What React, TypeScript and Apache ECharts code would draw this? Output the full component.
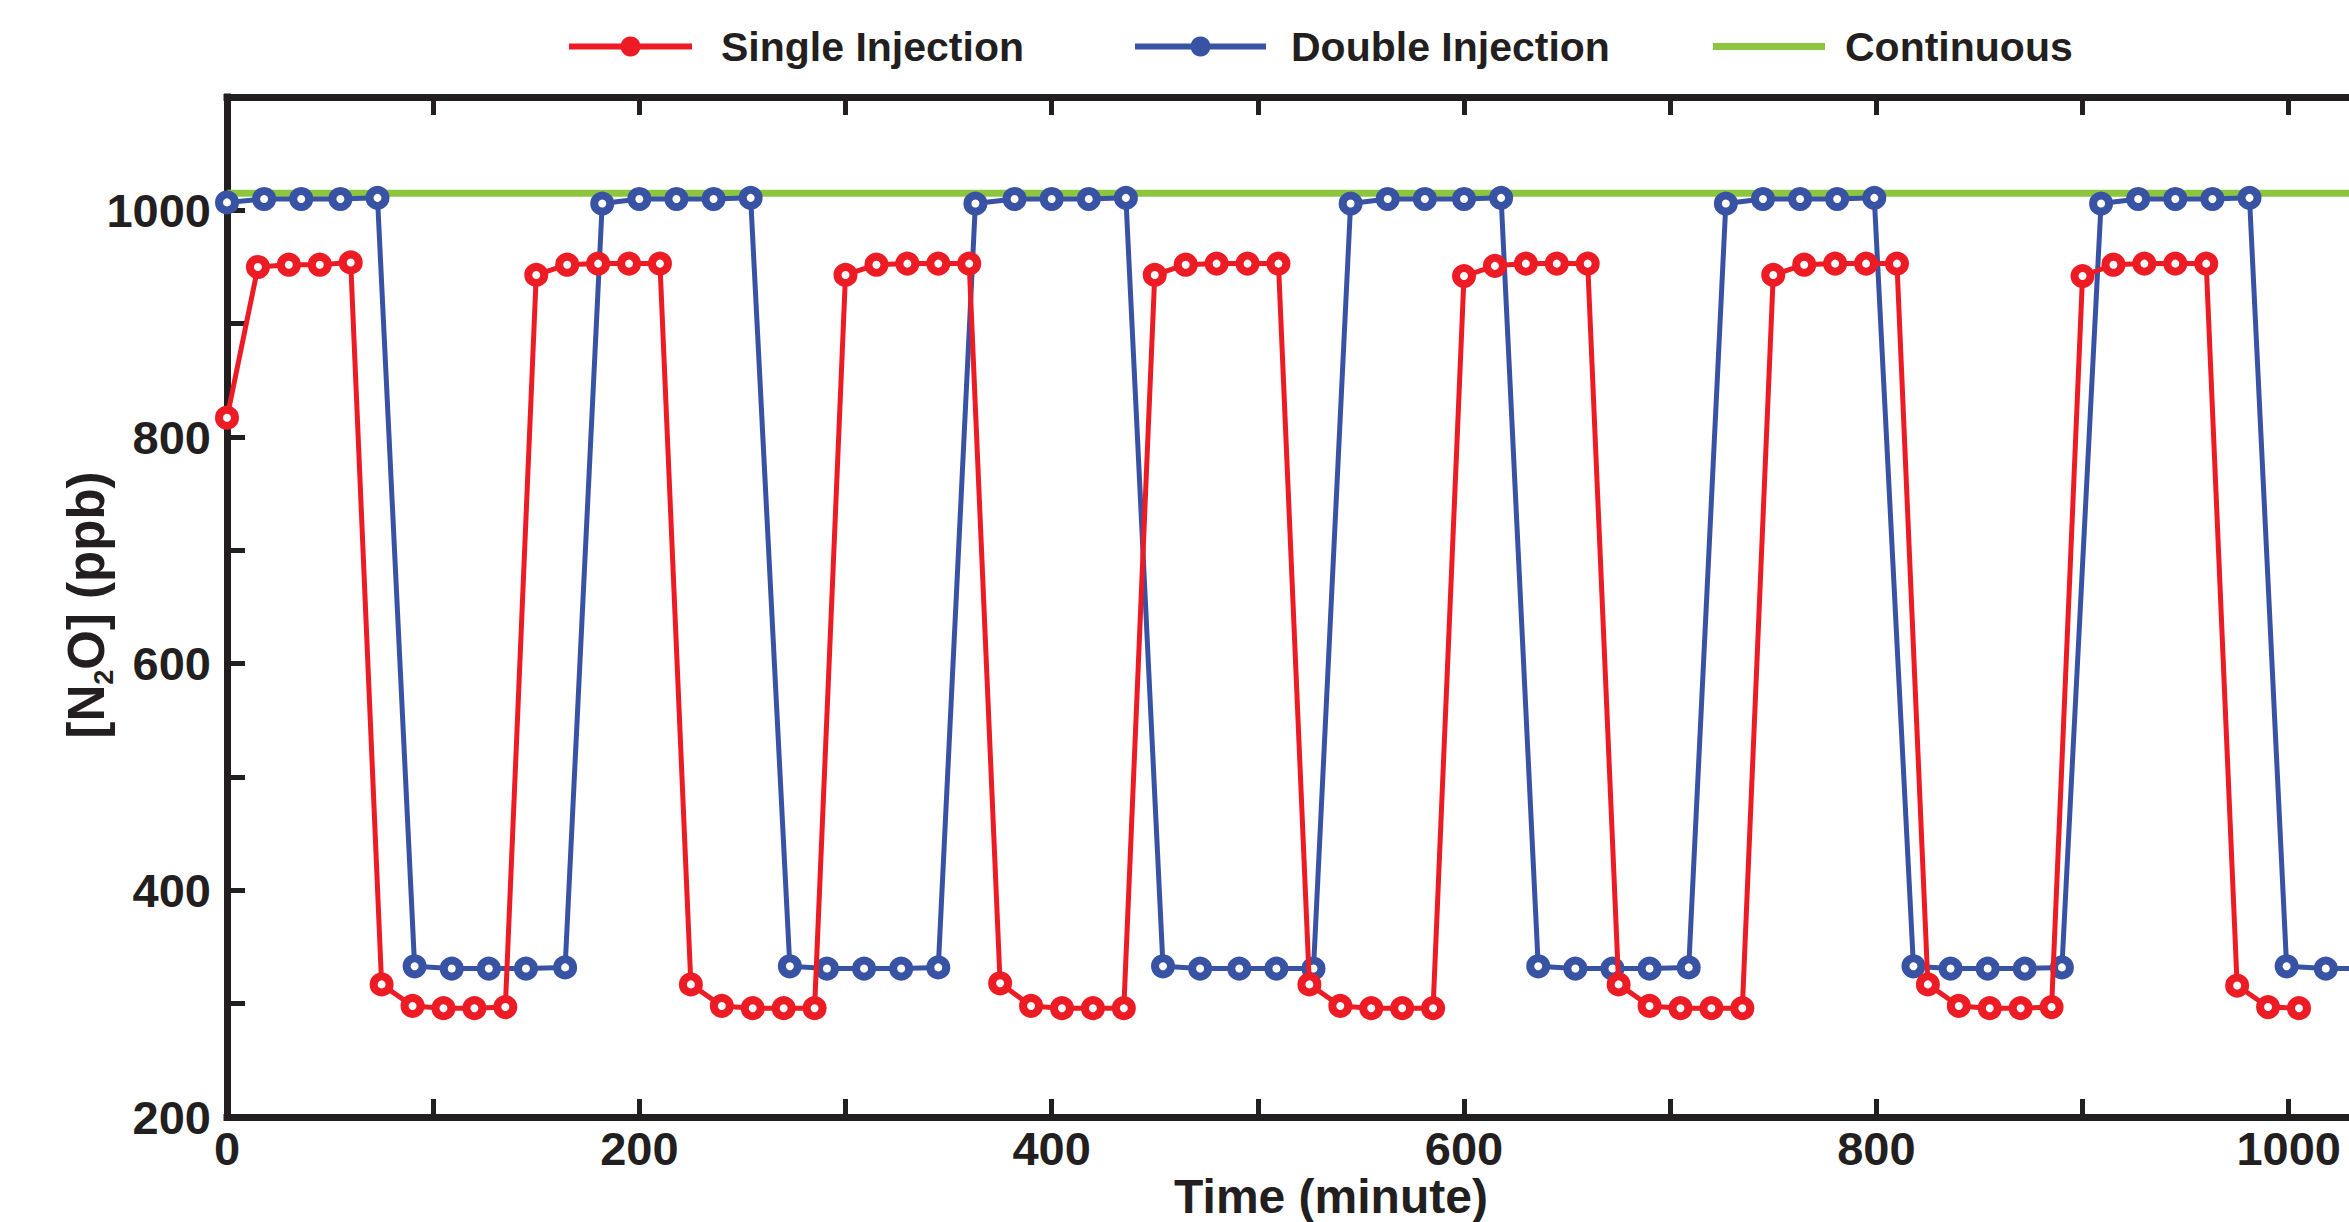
import React, { useEffect, useRef } from 'react';
import * as echarts from 'echarts';

// Time (minute) of each Single Injection sample
const singleTime = [
  0, 15, 30, 45, 60, 75, 90, 105, 120, 135,
  150, 165, 180, 195, 210, 225, 240, 255, 270, 285,
  300, 315, 330, 345, 360, 375, 390, 405, 420, 435,
  450, 465, 480, 495, 510, 525, 540, 555, 570, 585,
  600, 615, 630, 645, 660, 675, 690, 705, 720, 735,
  750, 765, 780, 795, 810, 825, 840, 855, 870, 885,
  900, 915, 930, 945, 960, 975, 990, 1005,
];
// [N2O] (ppb) of Single Injection
const singleValue = [
  817, 950, 952, 952, 954, 317, 298, 296, 296, 297,
  943, 952, 953, 953, 953, 317, 298, 296, 296, 296,
  943, 952, 953, 953, 953, 318, 298, 296, 296, 296,
  943, 952, 953, 953, 953, 317, 298, 296, 296, 296,
  942, 951, 953, 953, 953, 317, 298, 296, 296, 296,
  943, 952, 953, 953, 953, 317, 298, 296, 296, 297,
  942, 952, 953, 953, 953, 316, 297, 296,
];

// Time (minute) of each Double Injection sample
const doubleTime = [
  0, 18, 36, 55, 73, 91, 109, 127, 145, 164,
  182, 200, 218, 236, 254, 273, 291, 309, 327, 345,
  363, 382, 400, 418, 436, 454, 472, 491, 509, 527,
  545, 563, 581, 600, 618, 636, 654, 672, 690, 709,
  727, 745, 763, 781, 799, 818, 836, 854, 872, 890,
  909, 927, 945, 963, 981, 999, 1018, 1036,
];
// [N2O] (ppb) of Double Injection
const doubleValue = [
  1007, 1010, 1010, 1010, 1011, 333, 331, 331, 331, 332,
  1006, 1010, 1010, 1010, 1011, 333, 331, 331, 331, 332,
  1006, 1010, 1010, 1010, 1011, 333, 331, 331, 331, 331,
  1006, 1010, 1010, 1010, 1011, 333, 331, 331, 331, 332,
  1006, 1010, 1010, 1010, 1011, 333, 331, 331, 331, 332,
  1006, 1010, 1010, 1010, 1011, 333, 331, 331,
];

// Continuous injection
const continuousTime = [0, 1070];
const continuousValue = [1015, 1015];

const X_MIN = 0;
const X_MAX = 1070;
const Y_MIN = 200;
const Y_MAX = 1100;
const TICK_STEP = 100;
const LABEL_STEP = 200;

const RED = '#ED1C24';
const BLUE = '#3953A4';
const GREEN = '#8CC63F';
const INK = '#231F20';
const FONT = '"Liberation Sans", Arial, Helvetica, sans-serif';

export default function App() {
  const ref = useRef<HTMLDivElement>(null);

  useEffect(() => {
    const chart = echarts.init(ref.current!, null, { renderer: 'svg' });
    const zip = (xs: number[], ys: number[]) => xs.map((x, i) => [x, ys[i]]);

    const axisLine = { show: true, onZero: false, lineStyle: { color: INK, width: 7, cap: 'square' } };
    const axisTick = { show: true, inside: true, length: 18, lineStyle: { color: INK, width: 5 } };
    const axisLabel = (margin: number) => ({
      show: true,
      margin,
      color: INK,
      fontSize: 47,
      fontWeight: 'bold',
      fontFamily: FONT,
      formatter: (v: number) => (v % LABEL_STEP === 0 ? String(v) : ''),
    });
    const legendText = (pad: number) => ({
      color: INK,
      fontSize: 41,
      fontWeight: 'bold',
      fontFamily: FONT,
      padding: [0, 0, 0, pad],
    });

    chart.setOption({
      animation: false,
      backgroundColor: '#ffffff',
      grid: {
        left: 227,
        top: 97,
        width: 2206,
        height: 1020,
        containLabel: false,
        outerBoundsMode: 'none',
      },
      legend: [
        {
          data: ['Single Injection'],
          left: 566,
          top: 26,
          padding: 0,
          selectedMode: false,
          itemWidth: 123,
          itemHeight: 25,
          itemStyle: { color: RED, borderColor: RED, borderWidth: 0 },
          lineStyle: { color: RED, width: 6 },
          textStyle: legendText(24),
        },
        {
          data: ['Double Injection'],
          left: 1132,
          top: 26,
          padding: 0,
          selectedMode: false,
          itemWidth: 131,
          itemHeight: 25,
          itemStyle: { color: BLUE, borderColor: BLUE, borderWidth: 0 },
          lineStyle: { color: BLUE, width: 6 },
          textStyle: legendText(20),
        },
        {
          data: [{ name: 'Continuous', icon: 'rect' }],
          left: 1713,
          top: 26,
          padding: 0,
          selectedMode: false,
          itemWidth: 112,
          itemHeight: 7,
          itemStyle: { color: GREEN, borderWidth: 0 },
          textStyle: legendText(15),
        },
      ],
      xAxis: [
        {
          type: 'value',
          position: 'bottom',
          min: X_MIN,
          max: X_MAX,
          interval: TICK_STEP,
          axisLine,
          axisTick,
          axisLabel: axisLabel(8),
          splitLine: { show: false },
        },
        {
          type: 'value',
          position: 'top',
          min: X_MIN,
          max: X_MAX,
          interval: TICK_STEP,
          axisLine,
          axisTick,
          axisLabel: { show: false },
          splitLine: { show: false },
        },
      ],
      yAxis: {
        type: 'value',
        position: 'left',
        min: Y_MIN,
        max: Y_MAX,
        interval: TICK_STEP,
        axisLine,
        axisTick,
        axisLabel: axisLabel(16),
        splitLine: { show: false },
      },
      series: [
        {
          name: 'Continuous',
          type: 'line',
          xAxisIndex: 0,
          data: zip(continuousTime, continuousValue),
          symbol: 'none',
          lineStyle: { color: GREEN, width: 7 },
          itemStyle: { color: GREEN },
          z: 2,
        },
        {
          name: 'Double Injection',
          type: 'line',
          xAxisIndex: 0,
          data: zip(doubleTime, doubleValue),
          symbol: 'circle',
          symbolSize: 16,
          lineStyle: { color: BLUE, width: 5 },
          itemStyle: { color: '#ffffff', borderColor: BLUE, borderWidth: 8 },
          z: 3,
        },
        {
          name: 'Single Injection',
          type: 'line',
          xAxisIndex: 0,
          data: zip(singleTime, singleValue),
          symbol: 'circle',
          symbolSize: 16,
          lineStyle: { color: RED, width: 5 },
          itemStyle: { color: '#ffffff', borderColor: RED, borderWidth: 8 },
          z: 4,
        },
      ],
      graphic: [
        {
          type: 'text',
          x: 1331,
          y: 1196,
          style: {
            text: 'Time (minute)',
            fill: INK,
            fontSize: 48,
            fontWeight: 'bold',
            fontFamily: FONT,
            align: 'center',
            verticalAlign: 'middle',
          },
        },
        {
          type: 'text',
          x: 86,
          y: 605,
          rotation: Math.PI / 2,
          style: {
            text: '[N{sub|2}O] (ppb)',
            fill: INK,
            fontSize: 51,
            lineHeight: 63,
            fontWeight: 'bold',
            fontFamily: FONT,
            align: 'center',
            verticalAlign: 'middle',
            rich: {
              sub: {
                fill: INK,
                fontSize: 27,
                lineHeight: 27,
                fontWeight: 'bold',
                fontFamily: FONT,
                verticalAlign: 'bottom',
              },
            },
          },
        },
      ],
    });

    return () => chart.dispose();
  }, []);

  return (
    <div
      ref={ref}
      style={{ position: 'fixed', left: 0, top: 0, width: 2349, height: 1222, background: '#fff' }}
    />
  );
}
